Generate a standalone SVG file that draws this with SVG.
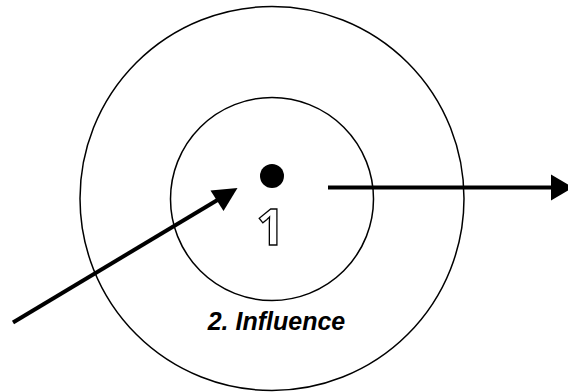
<svg xmlns="http://www.w3.org/2000/svg" width="568" height="392" viewBox="0 0 568 392">
  <style>
    .ring { fill: none; stroke: #000; stroke-width: 1.5; }
    .conn { stroke: #000; stroke-width: 4; fill: none; }
    .head { fill: #000; }
    .num { font-family: "Noto Sans", "Liberation Sans", Arial, sans-serif; font-weight: bold; font-size: 50px; fill: #fff; stroke: #000; stroke-width: 1.3; }
    .lbl { font-family: "Liberation Sans", Arial, sans-serif; font-weight: bold; font-style: italic; font-size: 25px; fill: #000; }
  </style>
  <rect width="568" height="392" fill="#fff"/>
  <g id="outer-circle">
    <circle class="ring" cx="272" cy="198.5" r="192"/>
    <text class="lbl" x="276.5" y="330" text-anchor="middle">2. Influence</text>
  </g>
  <g id="inner-circle">
    <circle class="ring" cx="272" cy="199" r="101.5"/>
    <text class="num" x="270.5" y="245" text-anchor="middle">1</text>
  </g>
  <g id="center-dot">
    <circle cx="272" cy="176" r="12" fill="#000"/>
  </g>
  <g id="connectors">
    <line class="conn" x1="13" y1="322.5" x2="220" y2="198.5"/>
    <polygon class="head" points="237.5,188 210.5,190.5 223.5,211"/>
    <line class="conn" x1="328" y1="187.5" x2="553" y2="187.5"/>
    <polygon class="head" points="551,174.5 573,187.5 551,200.5"/>
  </g>
</svg>
